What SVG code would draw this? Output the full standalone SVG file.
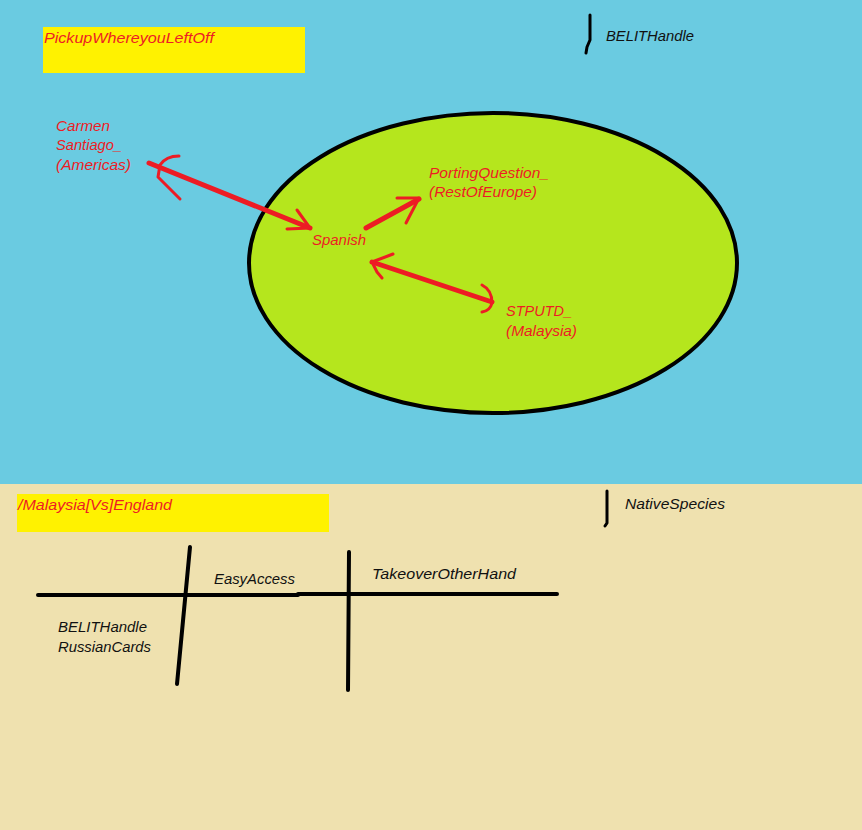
<svg xmlns="http://www.w3.org/2000/svg" width="862" height="830" viewBox="0 0 862 830">
<style>
.t{font-family:"Liberation Sans","DejaVu Sans",sans-serif;font-style:italic;font-size:15px}
.r{fill:#ED1C24}
.k{fill:#111}
.ra{fill:none;stroke:#ED1C24;stroke-linecap:round;stroke-linejoin:round}
.main{stroke-width:5}
.head{stroke-width:3}
.bk{fill:none;stroke:#000;stroke-linecap:round;stroke-linejoin:round}
</style>
<rect x="0" y="0" width="862" height="484" fill="#6ACBE1"/>
<rect x="0" y="484" width="862" height="346" fill="#EFE1AF"/>
<g id="oval">
<ellipse cx="493" cy="263" rx="244" ry="150" fill="#B5E61D" stroke="#000" stroke-width="4"/>
</g>
<g id="title1">
<rect x="43" y="27" width="262" height="46" fill="#FFF200"/>
<text class="t r" x="44" y="43" textLength="170" lengthAdjust="spacingAndGlyphs">PickupWhereyouLeftOff</text>
</g>
<g id="title2">
<rect x="17" y="494" width="312" height="38" fill="#FFF200"/>
<text class="t r" x="18" y="510" textLength="154" lengthAdjust="spacingAndGlyphs">/Malaysia[Vs]England</text>
</g>
<g id="belit-top">
<path class="bk" d="M590,15 L590,40 L587,47 L586,53" stroke-width="3"/>
<text class="t k" x="606" y="41" textLength="88" lengthAdjust="spacingAndGlyphs">BELITHandle</text>
</g>
<g id="native">
<path class="bk" d="M607,491 L607,523 L605,526" stroke-width="3"/>
<text class="t k" x="625" y="509" textLength="100" lengthAdjust="spacingAndGlyphs">NativeSpecies</text>
</g>
<g id="carmen">
<text class="t r" x="56" y="131" textLength="54" lengthAdjust="spacingAndGlyphs">Carmen</text>
<text class="t r" x="56" y="150" textLength="66" lengthAdjust="spacingAndGlyphs">Santiago_</text>
<text class="t r" x="56" y="170" textLength="75" lengthAdjust="spacingAndGlyphs">(Americas)</text>
</g>
<g id="porting">
<text class="t r" x="429" y="178" textLength="120" lengthAdjust="spacingAndGlyphs">PortingQuestion_</text>
<text class="t r" x="429" y="197" textLength="108" lengthAdjust="spacingAndGlyphs">(RestOfEurope)</text>
</g>
<g id="spanish">
<text class="t r" x="312" y="245" textLength="54" lengthAdjust="spacingAndGlyphs">Spanish</text>
</g>
<g id="stputd">
<text class="t r" x="506" y="316" textLength="66" lengthAdjust="spacingAndGlyphs">STPUTD_</text>
<text class="t r" x="506" y="336" textLength="71" lengthAdjust="spacingAndGlyphs">(Malaysia)</text>
</g>
<g id="table">
<path class="bk" d="M38,595 L298,595 M298,594 L557,594" stroke-width="4"/>
<path class="bk" d="M190,547 L177,684" stroke-width="4"/>
<path class="bk" d="M349,552 L348,690" stroke-width="4"/>
<text class="t k" x="214" y="584" textLength="81" lengthAdjust="spacingAndGlyphs">EasyAccess</text>
<text class="t k" x="372" y="579" textLength="144" lengthAdjust="spacingAndGlyphs">TakeoverOtherHand</text>
<text class="t k" x="58" y="632" textLength="89" lengthAdjust="spacingAndGlyphs">BELITHandle</text>
<text class="t k" x="58" y="652" textLength="93" lengthAdjust="spacingAndGlyphs">RussianCards</text>
</g>
<g id="connectors">
<path class="ra main" d="M149,163 L310,228"/>
<path class="ra head" d="M179,156 Q166,156 160,165 L158,177 L180,199"/>
<path class="ra head" d="M297,210 L310,228 L287,229"/>
<path class="ra main" d="M366,228 L419,199"/>
<path class="ra head" d="M397,198 L419,198 L406,223"/>
<path class="ra main" d="M372,262 L492,302"/>
<path class="ra head" d="M393,254 L372,262 L377,272 L382,278"/>
<path class="ra head" d="M482,285 Q492,290 492,303 Q490,311 482,312"/>
</g>
</svg>
